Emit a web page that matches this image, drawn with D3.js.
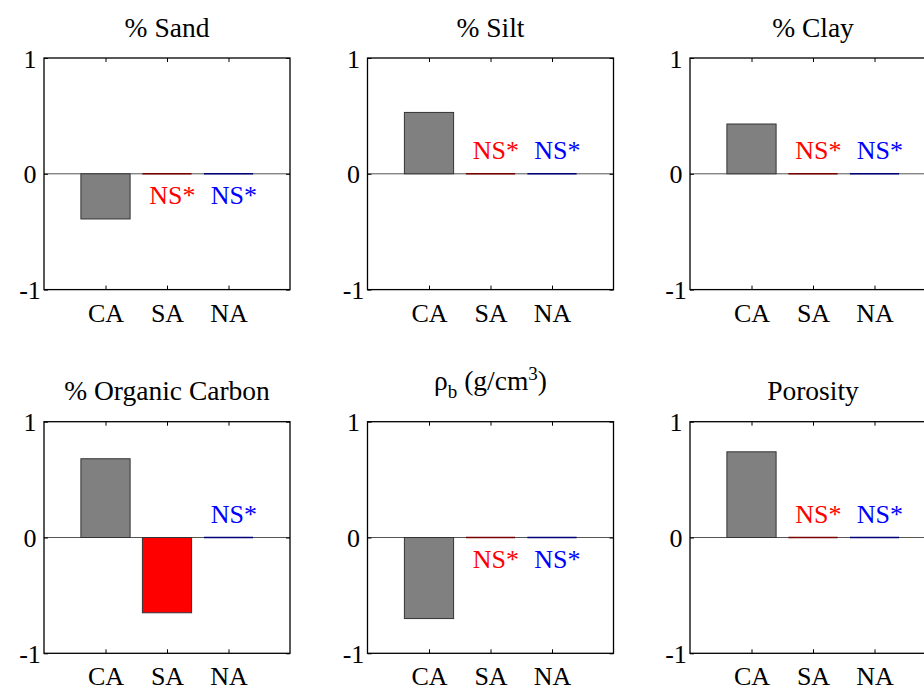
<!DOCTYPE html>
<html><head><meta charset="utf-8">
<script src="https://cdn.jsdelivr.net/npm/d3@7"></script>
<style>body{margin:0;background:#fff;overflow:hidden} svg{display:block}</style>
</head><body><svg id="chart" width="924" height="686"></svg>
<script>
// ---- data ----
const titles = ["% Sand", "% Silt", "% Clay", "% Organic Carbon", "ρ_{b} (g/cm^{3})", "Porosity"];
const regions = ["CA", "SA", "NA"];
const caValues = [-0.39, 0.53, 0.43, 0.68, -0.70, 0.74];
const saValues = [0, 0, 0, -0.65, 0, 0];
const naValues = [0, 0, 0, 0, 0, 0];
const saSignificant = [false, false, false, true, false, false];
const naSignificant = [false, false, false, false, false, false];
const nsSide = [-1, 1, 1, 1, -1, 1];
const yTicks = [-1, 0, 1];
const nsLabel = "NS*";

// ---- styles / layout ----
const regionColors = ["#808080", "#ff0000", "#0000ff"];
const zeroBarColors = ["#404040", "#7a0000", "#00007a"];
const nsColors = [null, "#ff0000", "#0000ff"];
const colLeft = [44, 367.5, 690];
const rowTop = [58, 421.7];
const W = 246, H = 231.6;
const FONT = "'Liberation Serif','Times New Roman',serif";

const svg = d3.select("#chart");
const x = d3.scaleLinear().domain([0, 4]).range([0, W]);
const y = d3.scaleLinear().domain([-1, 1]).range([H, 0]);
const unit = x(1) - x(0);

titles.forEach((title, i) => {
  const g = svg.append("g")
    .attr("transform", `translate(${colLeft[i % 3]},${rowTop[Math.floor(i / 3)]})`);
  const values = [caValues[i], saValues[i], naValues[i]];
  const sig = [true, saSignificant[i], naSignificant[i]];

  // zero baseline
  g.append("line")
    .attr("x1", 0).attr("x2", W).attr("y1", y(0)).attr("y2", y(0))
    .attr("stroke", "#555").attr("stroke-width", 1);

  // bars
  values.forEach((v, j) => {
    const cx = x(j + 1);
    if (v !== 0) {
      g.append("rect")
        .attr("x", cx - 0.4 * unit).attr("width", 0.8 * unit)
        .attr("y", y(Math.max(v, 0))).attr("height", Math.abs(y(v) - y(0)))
        .attr("fill", regionColors[j]).attr("stroke", "#333").attr("stroke-width", 1);
    } else {
      g.append("line")
        .attr("x1", cx - 0.4 * unit).attr("x2", cx + 0.4 * unit)
        .attr("y1", y(0)).attr("y2", y(0))
        .attr("stroke", zeroBarColors[j]).attr("stroke-width", 1.5);
    }
    if (!sig[j]) {
      g.append("text")
        .attr("x", cx - 0.29 * unit)
        .attr("y", y(nsSide[i] > 0 ? 0.127 : -0.264))
        .attr("fill", nsColors[j])
        .attr("font-family", FONT).attr("font-size", 26)
        .text(nsLabel);
    }
  });

  // axes
  const styleAxis = sel => {
    sel.select(".domain").remove();
    sel.selectAll(".tick line").attr("stroke", "#000").attr("stroke-width", 1);
    sel.selectAll(".tick text").attr("font-family", FONT).attr("font-size", 26).attr("fill", "#000");
  };
  g.append("g").attr("transform", `translate(0,${H})`)
    .call(d3.axisBottom(x).tickValues([1, 2, 3]).tickFormat(d => regions[d - 1]).tickSizeInner(-4).tickSizeOuter(0))
    .call(styleAxis)
    .call(s => s.selectAll(".tick text").attr("y", 32).attr("dy", null));
  g.append("g")
    .call(d3.axisTop(x).tickValues([1, 2, 3]).tickFormat("").tickSizeInner(-4).tickSizeOuter(0))
    .call(styleAxis);
  g.append("g")
    .call(d3.axisLeft(y).tickValues(yTicks).tickFormat(d => String(d)).tickSizeInner(-4).tickSizeOuter(0))
    .call(styleAxis)
    .call(s => s.selectAll(".tick text").attr("x", -14).attr("text-anchor", "middle").attr("dy", "0.35em"));
  g.append("g").attr("transform", `translate(${W},0)`)
    .call(d3.axisRight(y).tickValues(yTicks).tickFormat("").tickSizeInner(-4).tickSizeOuter(0))
    .call(styleAxis);

  // frame
  g.append("rect").attr("width", W).attr("height", H)
    .attr("fill", "none").attr("stroke", "#000").attr("stroke-width", 1.3);

  // title (supports _{sub} and ^{sup})
  const hasScript = /[_^]\{/.test(title);
  const t = g.append("text")
    .attr("x", W / 2).attr("y", hasScript ? -32 : -21.5)
    .attr("text-anchor", "middle")
    .attr("font-family", FONT).attr("font-size", 27.5).attr("fill", "#000");
  const parts = title.split(/([_^]\{[^}]*\})/).filter(p => p.length);
  let shift = 0;
  parts.forEach(p => {
    let target = 0, txt = p, small = false;
    if (p.startsWith("_{")) { target = 8; txt = p.slice(2, -1); small = true; }
    else if (p.startsWith("^{")) { target = -10; txt = p.slice(2, -1); small = true; }
    const ts = t.append("tspan").attr("dy", target - shift).text(txt);
    if (small) ts.attr("font-size", 19);
    shift = target;
  });
});
</script>
</body></html>
